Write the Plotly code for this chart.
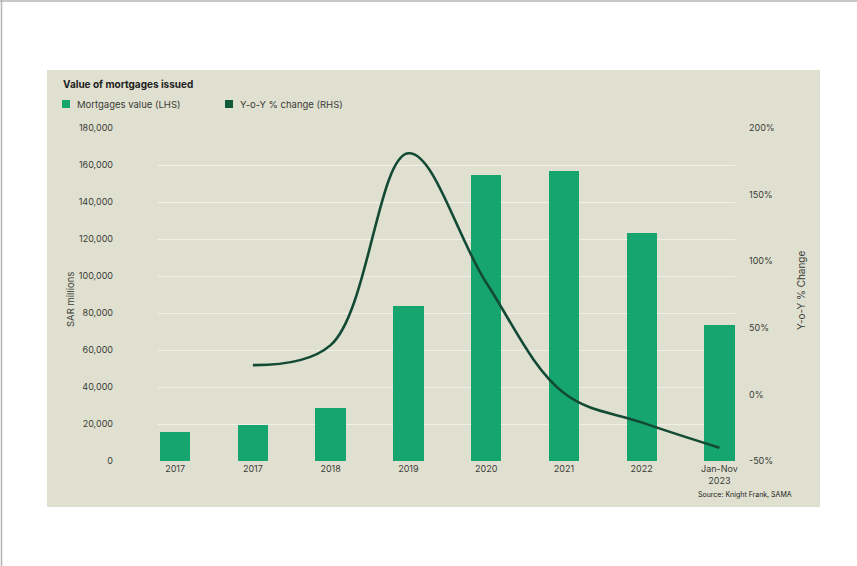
import plotly.graph_objects as go

# ---- data ----
categories = ["2017", "2017", "2018", "2019", "2020", "2021", "2022", "Jan-Nov<br>2023"]
mortgage_values = [15700, 19500, 28600, 83800, 154600, 156800, 123000, 73500]
yoy_change = [22, 37, 181, 84, 1, -21, -40]   # from the 2nd category onward
left_ticks = [0, 20000, 40000, 60000, 80000, 100000, 120000, 140000, 160000, 180000]
right_ticks = [-50, 0, 50, 100, 150, 200]
right_tick_labels = ["-50%", "0%", "50%", "100%", "150%", "200%"]

W, H = 857, 566
# plot area in pixels
PL, PR, PT, PB = 158, 735, 128, 461

def px(x):
    return (x - PL) / (PR - PL)

def py(y):
    return (PB - y) / (PB - PT)

BG = "#dfe0cf"
GREEN = "#17a56f"
DARK = "#134a35"
TXT = "#3b3b38"
FONT = "Inter, Roboto, Arial, sans-serif"

xpos = list(range(len(categories)))
yoy_x = xpos[1:]

fig = go.Figure()
fig.add_trace(go.Bar(
    x=xpos, y=mortgage_values, name="Mortgages value (LHS)",
    marker=dict(color=GREEN, line=dict(width=0)), width=0.39,
    showlegend=False, yaxis="y",
))
fig.add_trace(go.Scatter(
    x=yoy_x, y=yoy_change, name="Y-o-Y % change (RHS)", mode="lines",
    line=dict(color=DARK, width=2.6, shape="spline", smoothing=1.05),
    showlegend=False, yaxis="y2",
))

fig.update_layout(
    width=W, height=H,
    margin=dict(l=PL, r=W - PR, t=PT, b=H - PB),
    paper_bgcolor="white", plot_bgcolor=BG,
    font=dict(family=FONT, size=9, color=TXT),
    bargap=0,
    xaxis=dict(
        range=[-0.22, 7.2], tickvals=xpos, ticktext=categories,
        showgrid=False, zeroline=False, showline=False, ticks="",
        tickfont=dict(size=9, color=TXT), ticklabelstandoff=1,
    ),
    yaxis=dict(
        range=[0, 180000], tickvals=left_ticks, tickformat=",",
        showgrid=True, gridcolor="rgba(255,255,255,0.55)", gridwidth=1,
        zeroline=False, showline=False, ticks="",
        tickfont=dict(size=9, color=TXT), ticklabelstandoff=44,
    ),
    yaxis2=dict(
        range=[-50, 200], tickvals=right_ticks, ticktext=right_tick_labels,
        overlaying="y", side="right", showgrid=False, zeroline=False,
        showline=False, ticks="",
        tickfont=dict(size=9, color=TXT), ticklabelstandoff=13,
    ),
    showlegend=False,
)

shapes = []
# outer frame lines
shapes.append(dict(type="line", xref="paper", yref="paper",
                   x0=px(0), x1=px(W), y0=py(1), y1=py(1),
                   line=dict(color="#b5b5b5", width=1.5), layer="below"))
shapes.append(dict(type="line", xref="paper", yref="paper",
                   x0=px(1.5), x1=px(1.5), y0=py(0), y1=py(H),
                   line=dict(color="#b5b5b5", width=1.5), layer="below"))
# beige panel
shapes.append(dict(type="rect", xref="paper", yref="paper",
                   x0=px(47), x1=px(820), y0=py(507), y1=py(70),
                   fillcolor=BG, line=dict(width=0), layer="below"))
# legend squares
shapes.append(dict(type="rect", xref="paper", yref="paper",
                   x0=px(62), x1=px(70), y0=py(108), y1=py(100),
                   fillcolor=GREEN, line=dict(width=0)))
shapes.append(dict(type="rect", xref="paper", yref="paper",
                   x0=px(225), x1=px(233), y0=py(108), y1=py(100),
                   fillcolor="#0e5b3c", line=dict(width=0)))
fig.update_layout(shapes=shapes)

ann = []
ann.append(dict(text="<b>Value of mortgages issued</b>", xref="paper", yref="paper",
                x=px(61), y=py(85), xanchor="left", yanchor="middle",
                showarrow=False, font=dict(size=10, color="#222")))
ann.append(dict(text="Mortgages value (LHS)", xref="paper", yref="paper",
                x=px(75), y=py(104), xanchor="left", yanchor="middle",
                showarrow=False, font=dict(size=9.5, color=TXT)))
ann.append(dict(text="Y-o-Y % change (RHS)", xref="paper", yref="paper",
                x=px(238), y=py(104), xanchor="left", yanchor="middle",
                showarrow=False, font=dict(size=9.5, color=TXT)))
ann.append(dict(text="SAR millions", xref="paper", yref="paper",
                x=px(70), y=py(300), xanchor="center", yanchor="middle",
                textangle=-90, showarrow=False, font=dict(size=9.5, color=TXT)))
ann.append(dict(text="Y-o-Y % Change", xref="paper", yref="paper",
                x=px(801), y=py(290), xanchor="center", yanchor="middle",
                textangle=-90, showarrow=False, font=dict(size=10, color=TXT)))
ann.append(dict(text="Source: Knight Frank, SAMA", xref="paper", yref="paper",
                x=px(794), y=py(494), xanchor="right", yanchor="middle",
                showarrow=False, font=dict(size=7, color="#222")))
fig.update_layout(annotations=ann)

fig.write_html("out.html")
